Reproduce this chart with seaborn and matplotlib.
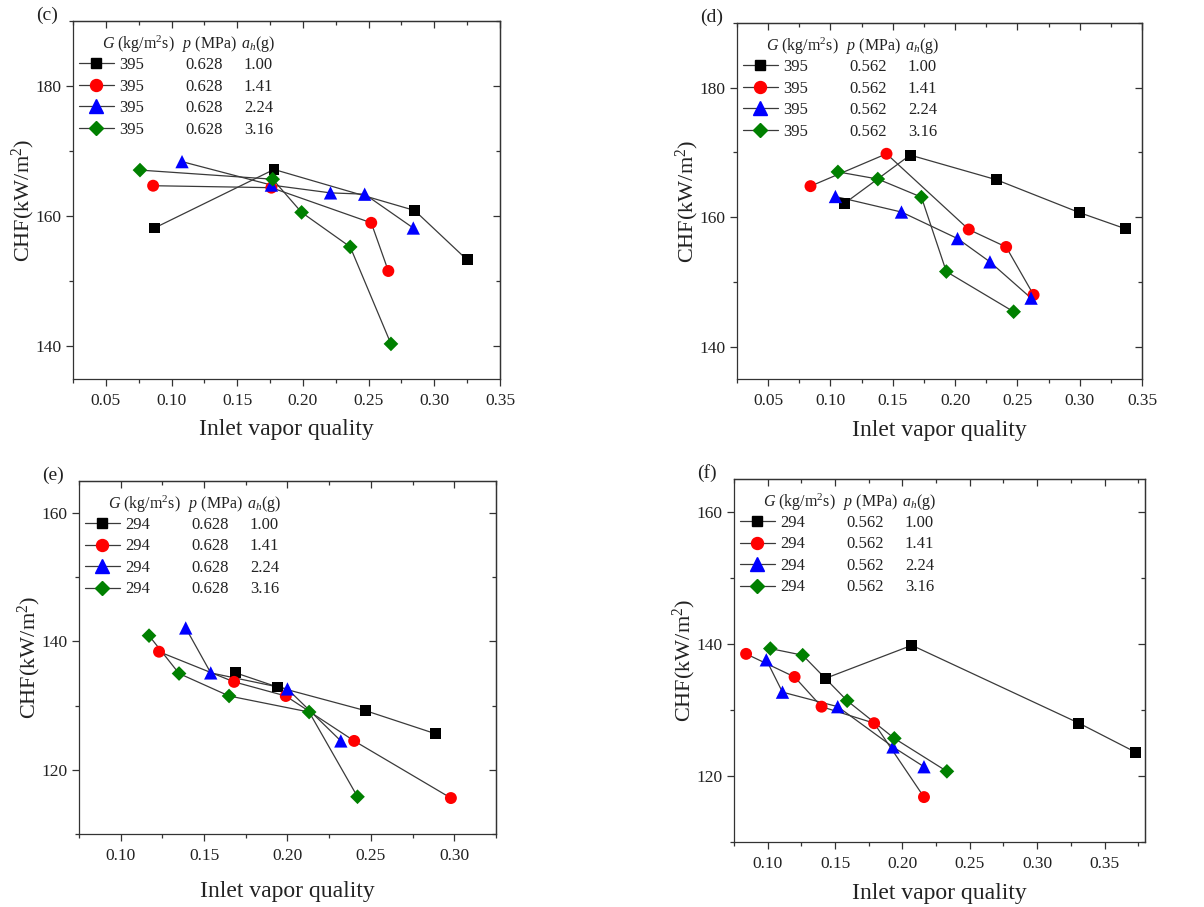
import numpy as np
import pandas as pd
import matplotlib
matplotlib.use("Agg")
import matplotlib.pyplot as plt
import seaborn as sns
from matplotlib.lines import Line2D
from matplotlib.ticker import MultipleLocator, FormatStrFormatter

# ==========================================
# DATA
# ==========================================

accel = ["1.00", "1.41", "2.24", "3.16"]
colors = ["black", "#ff0000", "#0000ff", "#008000"]
markers = ["s", "o", "^", "D"]
sizes = [62, 74, 92, 56]

# (c) G = 395, p = 0.628
c_x_100 = [0.087, 0.178, 0.285, 0.325]
c_q_100 = [158.2, 167.2, 160.9, 153.3]
c_x_141 = [0.086, 0.176, 0.252, 0.265]
c_q_141 = [164.7, 164.4, 159.0, 151.6]
c_x_224 = [0.108, 0.176, 0.221, 0.247, 0.284]
c_q_224 = [168.4, 164.8, 163.6, 163.4, 158.2]
c_x_316 = [0.076, 0.177, 0.199, 0.236, 0.267]
c_q_316 = [167.1, 165.7, 160.6, 155.3, 140.4]

# (d) G = 395, p = 0.562
d_x_100 = [0.111, 0.164, 0.233, 0.300, 0.337]
d_q_100 = [162.1, 169.6, 165.8, 160.7, 158.2]
d_x_141 = [0.084, 0.145, 0.211, 0.241, 0.263]
d_q_141 = [164.8, 169.8, 158.1, 155.4, 148.0]
d_x_224 = [0.104, 0.157, 0.202, 0.228, 0.261]
d_q_224 = [163.2, 160.8, 156.7, 153.1, 147.5]
d_x_316 = [0.106, 0.138, 0.173, 0.193, 0.247]
d_q_316 = [167.0, 165.9, 163.1, 151.6, 145.4]

# (e) G = 294, p = 0.628
e_x_100 = [0.169, 0.194, 0.247, 0.289]
e_q_100 = [135.1, 132.9, 129.2, 125.6]
e_x_141 = [0.123, 0.168, 0.199, 0.240, 0.298]
e_q_141 = [138.4, 133.7, 131.5, 124.5, 115.6]
e_x_224 = [0.139, 0.154, 0.200, 0.232]
e_q_224 = [142.1, 135.1, 132.6, 124.5]
e_x_316 = [0.117, 0.135, 0.165, 0.213, 0.242]
e_q_316 = [140.9, 135.0, 131.5, 129.0, 115.8]

# (f) G = 294, p = 0.562
f_x_100 = [0.143, 0.207, 0.331, 0.373]
f_q_100 = [134.8, 139.8, 128.0, 123.6]
f_x_141 = [0.084, 0.120, 0.140, 0.179, 0.216]
f_q_141 = [138.5, 135.0, 130.5, 128.0, 116.8]
f_x_224 = [0.099, 0.111, 0.152, 0.193, 0.216]
f_q_224 = [137.6, 132.7, 130.5, 124.4, 121.4]
f_x_316 = [0.102, 0.126, 0.159, 0.194, 0.233]
f_q_316 = [139.3, 138.3, 131.4, 125.7, 120.7]

# ==========================================
# STYLE
# ==========================================

sns.set_theme(style="ticks")
plt.rcParams["font.family"] = ["Liberation Serif", "DejaVu Serif"]
plt.rcParams["mathtext.fontset"] = "custom"
plt.rcParams["mathtext.rm"] = "Liberation Serif"
plt.rcParams["mathtext.it"] = "Liberation Serif:italic"
plt.rcParams["axes.linewidth"] = 0.9
plt.rcParams["axes.edgecolor"] = "#333333"

line_col = "#3a3a3a"
txt_col = "#222222"

# tag, G, p, x lists, y lists, xlim, ylim, axes rect, xlabel pad
panels = [
    ("(c)", "395", "0.628",
     [c_x_100, c_x_141, c_x_224, c_x_316], [c_q_100, c_q_141, c_q_224, c_q_316],
     (0.025, 0.35), (135, 190), [0.0606, 0.5821, 0.3547, 0.3947], 7),
    ("(d)", "395", "0.562",
     [d_x_100, d_x_141, d_x_224, d_x_316], [d_q_100, d_q_141, d_q_224, d_q_316],
     (0.025, 0.35), (135, 190), [0.6121, 0.5821, 0.3364, 0.3925], 8),
    ("(e)", "294", "0.628",
     [e_x_100, e_x_141, e_x_224, e_x_316], [e_q_100, e_q_141, e_q_224, e_q_316],
     (0.075, 0.325), (110, 165), [0.0656, 0.0805, 0.3463, 0.3892], 12),
    ("(f)", "294", "0.562",
     [f_x_100, f_x_141, f_x_224, f_x_316], [f_q_100, f_q_141, f_q_224, f_q_316],
     (0.075, 0.38), (110, 165), [0.6096, 0.0717, 0.3414, 0.4002], 8),
]

fig = plt.figure(figsize=(12.04, 9.07), dpi=100)

legends = []

for tag, G, p, xs, qs, xlim, ylim, rect, xpad in panels:

    rows = []
    for a, xx, qq in zip(accel, xs, qs):
        for xv, qv in zip(xx, qq):
            rows.append({"a_h": a, "x": xv, "chf": qv})
    df = pd.DataFrame(rows)

    ax = fig.add_axes(rect)

    sns.lineplot(data=df, x="x", y="chf", units="a_h", estimator=None,
                 sort=False, color=line_col, lw=0.9, legend=False, ax=ax, zorder=2)

    sns.scatterplot(data=df, x="x", y="chf", hue="a_h", style="a_h", size="a_h",
                    hue_order=accel, style_order=accel, size_order=accel,
                    palette=dict(zip(accel, colors)),
                    markers=dict(zip(accel, markers)),
                    sizes=dict(zip(accel, sizes)),
                    linewidth=0, legend=False, ax=ax, zorder=3)

    ax.set_xlim(xlim)
    ax.set_ylim(ylim)

    ax.xaxis.set_major_locator(MultipleLocator(0.05))
    ax.xaxis.set_minor_locator(MultipleLocator(0.025))
    ax.xaxis.set_major_formatter(FormatStrFormatter("%.2f"))
    ax.yaxis.set_major_locator(MultipleLocator(20))
    ax.yaxis.set_minor_locator(MultipleLocator(10))

    ax.tick_params(which="major", direction="out", length=5, width=0.9,
                   labelsize=12.5, colors="#333333", labelcolor=txt_col)
    ax.tick_params(which="minor", direction="out", length=3, width=0.9, colors="#333333")
    ax.tick_params(axis="x", pad=5)
    ax.tick_params(axis="y", pad=3)

    # mirrored ticks on top / right, pointing inward
    top = ax.secondary_xaxis("top")
    top.xaxis.set_major_locator(MultipleLocator(0.05))
    top.xaxis.set_minor_locator(MultipleLocator(0.025))
    top.tick_params(which="major", direction="in", length=5, width=0.9, labeltop=False, colors="#333333")
    top.tick_params(which="minor", direction="in", length=3, width=0.9, colors="#333333")
    right = ax.secondary_yaxis("right")
    right.yaxis.set_major_locator(MultipleLocator(20))
    right.yaxis.set_minor_locator(MultipleLocator(10))
    right.tick_params(which="major", direction="in", length=5, width=0.9, labelright=False, colors="#333333")
    right.tick_params(which="minor", direction="in", length=3, width=0.9, colors="#333333")

    ax.set_xlabel("Inlet vapor quality", fontsize=17, labelpad=xpad, color=txt_col)
    ax.set_ylabel("CHF(kW/m$^2$)", fontsize=16, labelpad=-1, color=txt_col)

    ax.annotate(tag, xy=(0, 1), xycoords="axes fraction", xytext=(-37, 6),
                textcoords="offset pixels", ha="left", va="center", fontsize=14, color=txt_col)

    # legend: line-marker-line + G value
    handles = [
        Line2D([], [], color=line_col, lw=0.9, marker=m, ms=np.sqrt(s),
               markerfacecolor=c, markeredgecolor=c)
        for m, s, c in zip(markers, sizes, colors)
    ]
    w = ax.bbox.width
    h = ax.bbox.height
    leg = ax.legend(handles, [G] * 4, loc="upper left",
                    bbox_to_anchor=(6 / w, 1 - 36 / h), frameon=False,
                    borderpad=0, borderaxespad=0, handlelength=2.1,
                    handletextpad=0.3, labelspacing=0.33, fontsize=12)
    for t in leg.get_texts():
        t.set_color(txt_col)
    legends.append((ax, leg, p))

# ==========================================
# EXTRA LEGEND COLUMNS (p, a_h) AND HEADER
# ==========================================

fig.canvas.draw()

for ax, leg, p in legends:
    inv = ax.transAxes.inverted()
    w = ax.bbox.width
    ys = []
    for t in leg.get_texts():
        bb = t.get_window_extent()
        ys.append(inv.transform(((bb.x0 + bb.x1) / 2, (bb.y0 + bb.y1) / 2))[1])

    for yv, a in zip(ys, accel):
        ax.text(112 / w, yv, p, transform=ax.transAxes, ha="left", va="center", fontsize=12, color=txt_col)
        ax.text(171 / w, yv, a, transform=ax.transAxes, ha="left", va="center", fontsize=12, color=txt_col)

    pitch = ys[0] - ys[1]
    yh = ys[0] + pitch * 0.98
    ax.text(29 / w, yh, r"$G$ (kg/m$^2$s)", transform=ax.transAxes, ha="left", va="center", fontsize=11.5, color=txt_col)
    ax.text(109 / w, yh, r"$p$ (MPa)", transform=ax.transAxes, ha="left", va="center", fontsize=11.5, color=txt_col)
    ax.text(168 / w, yh, r"$a_h$(g)", transform=ax.transAxes, ha="left", va="center", fontsize=11.5, color=txt_col)

fig.savefig("out.png", dpi=100)
